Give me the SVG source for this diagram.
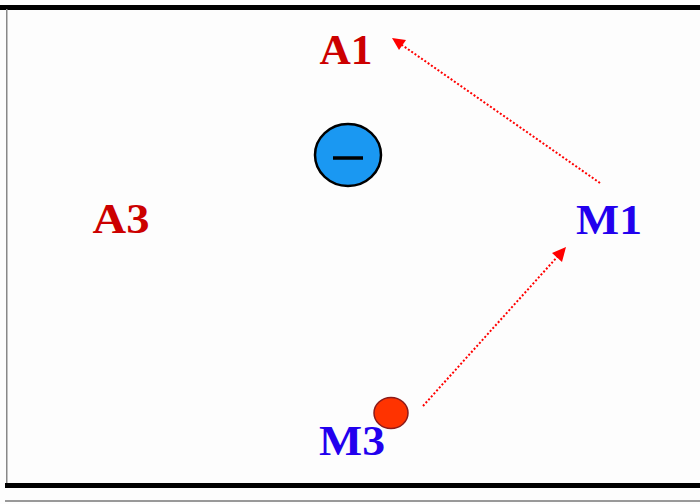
<svg xmlns="http://www.w3.org/2000/svg" width="700" height="504" viewBox="0 0 700 504">
<style>
.lbl{font-family:"Liberation Serif","Times New Roman",serif;font-weight:bold;font-size:43px;text-anchor:middle}
.a{fill:#cc0000}
.m{fill:#2200ee}
.conn{stroke:#ff0000;stroke-width:2;stroke-dasharray:2 2;fill:none}
</style>
<rect x="0" y="0" width="700" height="504" fill="#fdfdfd"/>
<g id="frame">
<rect x="0" y="5" width="700" height="5" fill="#000"/>
<rect x="6" y="9" width="1.5" height="476" fill="#888"/>
<rect x="5" y="483" width="695" height="5" fill="#000"/>
<rect x="5" y="500" width="695" height="2" fill="#999"/>
</g>
<g id="connectors">
<line class="conn" x1="600" y1="183" x2="402" y2="45"/>
<path d="M392,38 L406,40 L399,50 z" fill="#ff0000"/>
<line class="conn" x1="423" y1="406" x2="558" y2="256"/>
<path d="M566,247 L562,262 L552,253 z" fill="#ff0000"/>
</g>
<g id="A1"><text class="lbl a" x="346" y="64" textLength="53" lengthAdjust="spacingAndGlyphs">A1</text></g>
<g id="A3"><text class="lbl a" x="121" y="233" textLength="57" lengthAdjust="spacingAndGlyphs">A3</text></g>
<g id="M1"><text class="lbl m" x="609" y="234" textLength="66" lengthAdjust="spacingAndGlyphs">M1</text></g>
<g id="M3"><text class="lbl m" x="352" y="455" textLength="66" lengthAdjust="spacingAndGlyphs">M3</text></g>
<g id="neg">
<ellipse cx="348" cy="155" rx="33" ry="31" fill="#1a98f2" stroke="#000" stroke-width="2.5"/>
<line x1="333" y1="158" x2="363" y2="158" stroke="#000" stroke-width="3.5"/>
</g>
<g id="pos">
<ellipse cx="391" cy="413" rx="17" ry="15.5" fill="#ff3300" stroke="#8b1a1a" stroke-width="1.5"/>
</g>
</svg>
